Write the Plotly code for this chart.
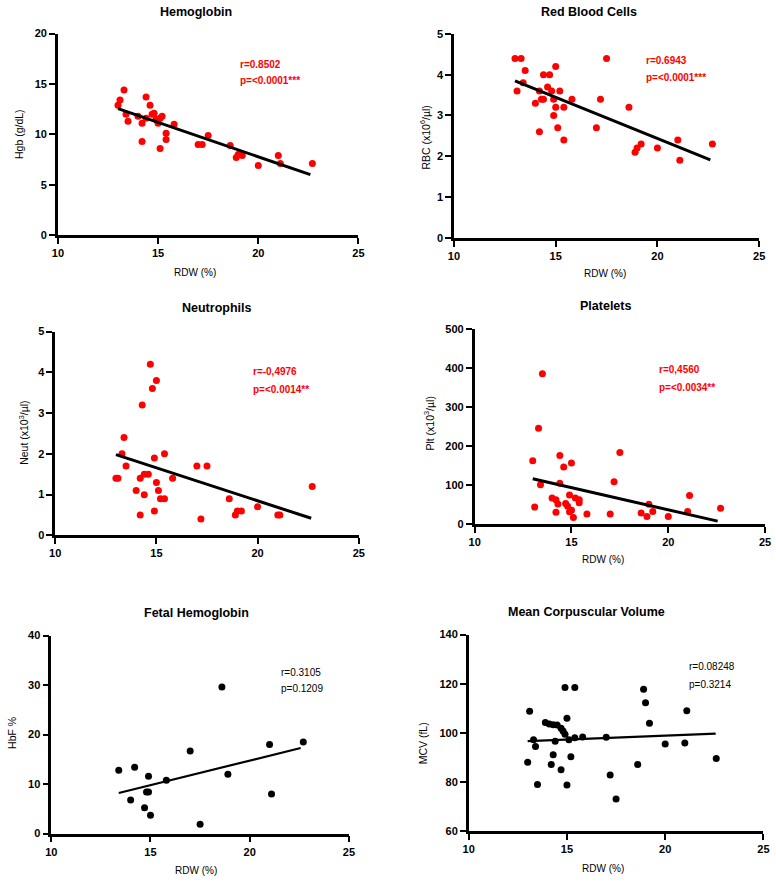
import plotly.graph_objects as go

W, H = 776, 883
FONT = "Liberation Sans, Arial, Helvetica, sans-serif"
RED = "#FF0000"
BLACK = "#000000"

# ---------------- data ----------------
rdw_ticks = [10, 15, 20, 25]

hgb_rdw = [13.0, 13.1, 13.3, 13.4, 13.5, 14.0, 14.2, 14.2, 14.4, 14.4, 14.6, 14.7, 14.8, 14.9,
           15.0, 15.1, 15.2, 15.1, 15.4, 15.4, 15.8, 17.0, 17.2, 17.5, 18.6, 18.9, 19.0, 19.2,
           20.0, 21.0, 21.1, 22.7]
hgb_val = [12.9, 13.4, 14.4, 12.0, 11.3, 11.8, 11.1, 9.3, 13.7, 11.6, 12.9, 12.0, 12.1, 11.5,
           11.1, 11.6, 11.8, 8.6, 10.1, 9.5, 11.0, 9.0, 9.0, 9.9, 8.9, 7.7, 8.0, 7.9,
           6.9, 7.9, 7.1, 7.1]
hgb_fit_x = [13.0, 22.6]
hgb_fit_y = [12.55, 6.0]
hgb_ticks = [0, 5, 10, 15, 20]

rbc_rdw = [13.0, 13.3, 13.1, 13.5, 13.4, 14.0, 14.2, 14.2, 14.3, 14.4, 14.4, 14.7, 14.6, 14.8,
           14.9, 14.9, 15.0, 15.0, 15.1, 15.2, 15.4, 15.4, 15.8, 17.0, 17.2, 17.5, 18.6, 18.9,
           19.0, 19.2, 20.0, 21.0, 21.1, 22.7]
rbc_val = [4.4, 4.4, 3.6, 4.1, 3.8, 3.3, 3.6, 2.6, 3.4, 3.4, 4.0, 4.0, 3.7, 3.6,
           3.4, 3.0, 4.2, 3.2, 2.7, 3.6, 3.2, 2.4, 3.4, 2.7, 3.4, 4.4, 3.2, 2.1,
           2.2, 2.3, 2.2, 2.4, 1.9, 2.3]
rbc_fit_x = [13.0, 22.6]
rbc_fit_y = [3.85, 1.91]
rbc_ticks = [0, 1, 2, 3, 4, 5]

neut_rdw = [13.0, 13.1, 13.3, 13.4, 13.5, 14.0, 14.2, 14.2, 14.3, 14.4, 14.4, 14.6, 14.7, 14.8,
            14.9, 14.9, 15.0, 15.0, 15.1, 15.2, 15.4, 15.4, 15.8, 17.0, 17.2, 17.5, 18.6, 18.9,
            19.0, 19.2, 20.0, 21.0, 21.1, 22.7]
neut_val = [1.4, 1.4, 2.0, 2.4, 1.7, 1.1, 1.4, 0.5, 3.2, 1.5, 1.0, 1.5, 4.2, 3.6,
            1.9, 0.6, 3.8, 1.3, 1.1, 0.9, 0.9, 2.0, 1.4, 1.7, 0.4, 1.7, 0.9, 0.5,
            0.6, 0.6, 0.7, 0.5, 0.5, 1.2]
neut_fit_x = [13.0, 22.65]
neut_fit_y = [1.98, 0.42]
neut_ticks = [0, 1, 2, 3, 4, 5]

plt_rdw = [13.0, 13.1, 13.3, 13.4, 13.5, 14.0, 14.2, 14.2, 14.3, 14.4, 14.4, 14.6, 14.7, 14.8,
           14.9, 14.9, 15.0, 15.0, 15.1, 15.2, 15.4, 15.4, 15.8, 17.0, 17.2, 17.5, 18.6, 18.9,
           19.0, 19.2, 20.0, 21.0, 21.1, 22.7]
plt_val = [162, 43, 245, 100, 385, 66, 62, 30, 51, 175, 104, 146, 52, 45,
           74, 31, 156, 35, 16, 66, 62, 54, 25, 25, 108, 183, 28, 19,
           50, 32, 19, 32, 73, 40]
plt_fit_x = [13.0, 22.55]
plt_fit_y = [115.5, 7.0]
plt_ticks = [0, 100, 200, 300, 400, 500]

hbf_rdw = [13.4, 14.0, 14.2, 14.7, 14.8, 14.9, 14.9, 15.0, 15.8, 17.0, 17.5, 18.6, 18.9, 21.0, 21.1, 22.7]
hbf_val = [12.8, 6.8, 13.4, 5.2, 8.4, 8.4, 11.6, 3.7, 10.8, 16.7, 1.9, 29.6, 12.0, 18.0, 8.0, 18.5]
hbf_fit_x = [13.4, 22.57]
hbf_fit_y = [8.2, 17.3]
hbf_ticks = [0, 10, 20, 30, 40]

mcv_rdw = [13.0, 13.1, 13.3, 13.4, 13.5, 13.9, 14.1, 14.3, 14.5, 14.7, 14.8, 14.9, 15.0, 14.2,
           14.3, 14.4, 14.7, 14.9, 15.0, 15.1, 15.2, 15.4, 15.4, 15.8, 17.0, 17.2, 17.5, 18.6,
           18.9, 19.0, 19.2, 20.0, 21.0, 21.1, 22.6]
mcv_val = [88.1, 108.8, 97.2, 94.5, 79.0, 104.3, 103.7, 103.4, 103.2, 101.9, 100.8, 99.5, 106.0, 87.2,
           91.1, 96.6, 85.0, 118.5, 78.8, 97.2, 90.3, 118.5, 98.1, 98.4, 98.3, 82.9, 73.1, 87.2,
           117.8, 112.3, 104.0, 95.5, 95.9, 109.0, 89.6]
mcv_fit_x = [13.0, 22.57]
mcv_fit_y = [96.65, 99.7]
mcv_ticks = [60, 80, 100, 120, 140]

# ---------------- layout helpers ----------------
def px(x):
    return x / W

def py(y):
    return 1 - y / H

panels = [
    dict(x=hgb_rdw, y=hgb_val, fx=hgb_fit_x, fy=hgb_fit_y, color=RED, lw=3,
         yr=[0, 20], yt=hgb_ticks, xd=(52.7, 358.0), yd=(28.0, 232.3),
         title="Hemoglobin", t=(193, 6), xt=(192, 270), ylab="Hgb (g/dL)", yl=(13, 130),
         r="r=0.8502", p="p=<0.0001***", rp=(236, 59, 76), bold=True),
    dict(x=rbc_rdw, y=rbc_val, fx=rbc_fit_x, fy=rbc_fit_y, color=RED, lw=3,
         yr=[0, 5], yt=rbc_ticks, xd=(455.0, 765.0), yd=(28.3, 235.0),
         title="Red Blood Cells", t=(592, 6), xt=(608, 271), ylab="RBC (x10<sup>6</sup>/µl)", yl=(425, 133),
         r="r=0.6943", p="p=<0.0001***", rp=(648, 55, 72), bold=True),
    dict(x=neut_rdw, y=neut_val, fx=neut_fit_x, fy=neut_fit_y, color=RED, lw=3,
         yr=[0, 5], yt=neut_ticks, xd=(50.0, 358.3), yd=(330.0, 536.7),
         title="Neutrophils", t=(214, 306), xt=None, ylab="Neut (x10<sup>3</sup>/µl)", yl=(17, 433),
         r="r=-0,4976", p="p=<0.0014**", rp=(249, 371, 389), bold=True),
    dict(x=plt_rdw, y=plt_val, fx=plt_fit_x, fy=plt_fit_y, color=RED, lw=3,
         yr=[0, 500], yt=plt_ticks, xd=(476.0, 771.0), yd=(327.3, 525.0),
         title="Platelets", t=(609, 304), xt=(606, 561), ylab="Plt (x10<sup>3</sup>/µl)", yl=(429, 423),
         r="r=0,4560", p="p=<0.0034**", rp=(661, 369, 387), bold=True),
    dict(x=hbf_rdw, y=hbf_val, fx=hbf_fit_x, fy=hbf_fit_y, color=BLACK, lw=2.2,
         yr=[0, 40], yt=hbf_ticks, xd=(46.0, 348.3), yd=(638.3, 839.0),
         title="Fetal Hemoglobin", t=(193, 615), xt=(193, 876), ylab="HbF %", yl=(6, 737),
         r="r=0.3105", p="p=0.1209", rp=(277, 676, 692), bold=False),
    dict(x=mcv_rdw, y=mcv_val, fx=mcv_fit_x, fy=mcv_fit_y, color=BLACK, lw=2.2,
         yr=[60, 140], yt=mcv_ticks, xd=(470.0, 769.3), yd=(637.3, 836.7),
         title="Mean Corpuscular Volume", t=(590, 614), xt=(606, 874), ylab="MCV (fL)", yl=(423, 747),
         r="r=0.08248", p="p=0.3214", rp=(692, 670, 688), bold=False),
]

fig = go.Figure()
annotations = []
layout_axes = {}

for i, pnl in enumerate(panels, start=1):
    xa = "x" if i == 1 else f"x{i}"
    ya = "y" if i == 1 else f"y{i}"
    fig.add_trace(go.Scatter(x=pnl["x"], y=pnl["y"], mode="markers", xaxis=xa, yaxis=ya,
                             marker=dict(color=pnl["color"], size=7, line=dict(width=0)),
                             hoverinfo="skip", cliponaxis=False))
    fig.add_trace(go.Scatter(x=pnl["fx"], y=pnl["fy"], mode="lines", xaxis=xa, yaxis=ya,
                             line=dict(color=BLACK, width=pnl["lw"]), hoverinfo="skip"))
    axis_common = dict(showline=True, linecolor=BLACK, linewidth=2.5, showgrid=False,
                       zeroline=False, ticks="outside", ticklen=6, tickwidth=2, tickcolor=BLACK,
                       tickfont=dict(family=FONT, size=11, color=BLACK, weight="bold"),
                       ticklabeloverflow="allow", fixedrange=True)
    layout_axes["xaxis" if i == 1 else f"xaxis{i}"] = dict(
        domain=[px(pnl["xd"][0]), px(pnl["xd"][1])], range=[10, 25], tickvals=rdw_ticks,
        anchor=ya, **axis_common)
    layout_axes["yaxis" if i == 1 else f"yaxis{i}"] = dict(
        domain=[py(pnl["yd"][1]), py(pnl["yd"][0])], range=pnl["yr"], tickvals=pnl["yt"],
        anchor=xa, **axis_common)

    annotations.append(dict(text=pnl["title"], x=px(pnl["t"][0]), y=py(pnl["t"][1]),
                            xref="paper", yref="paper", showarrow=False, xanchor="center", yanchor="middle",
                            font=dict(family=FONT, size=12.5, color=BLACK, weight="bold")))
    if pnl["xt"] is not None:
        annotations.append(dict(text="RDW (%)", x=px(pnl["xt"][0]), y=py(pnl["xt"][1]),
                                xref="paper", yref="paper", showarrow=False, xanchor="center", yanchor="middle",
                                font=dict(family=FONT, size=10, color=BLACK)))
    annotations.append(dict(text=pnl["ylab"], x=px(pnl["yl"][0]), y=py(pnl["yl"][1]), textangle=-90,
                            xref="paper", yref="paper", showarrow=False, xanchor="center", yanchor="middle",
                            font=dict(family=FONT, size=10.5, color=BLACK)))
    stat_color = RED if pnl["bold"] else BLACK
    stat_weight = "bold" if pnl["bold"] else "normal"
    for txt, yy in ((pnl["r"], pnl["rp"][1]), (pnl["p"], pnl["rp"][2])):
        annotations.append(dict(text=txt, x=px(pnl["rp"][0]), y=py(yy),
                                xref="paper", yref="paper", showarrow=False, xanchor="left", yanchor="middle",
                                font=dict(family=FONT, size=10, color=stat_color, weight=stat_weight)))

fig.update_layout(width=W, height=H, margin=dict(l=0, r=0, t=0, b=0),
                  paper_bgcolor="white", plot_bgcolor="white", showlegend=False,
                  annotations=annotations, font=dict(family=FONT), **layout_axes)

fig.write_html("out.html", config={"displayModeBar": False},
               post_script="document.body.style.margin='0px';document.body.style.padding='0px';")
